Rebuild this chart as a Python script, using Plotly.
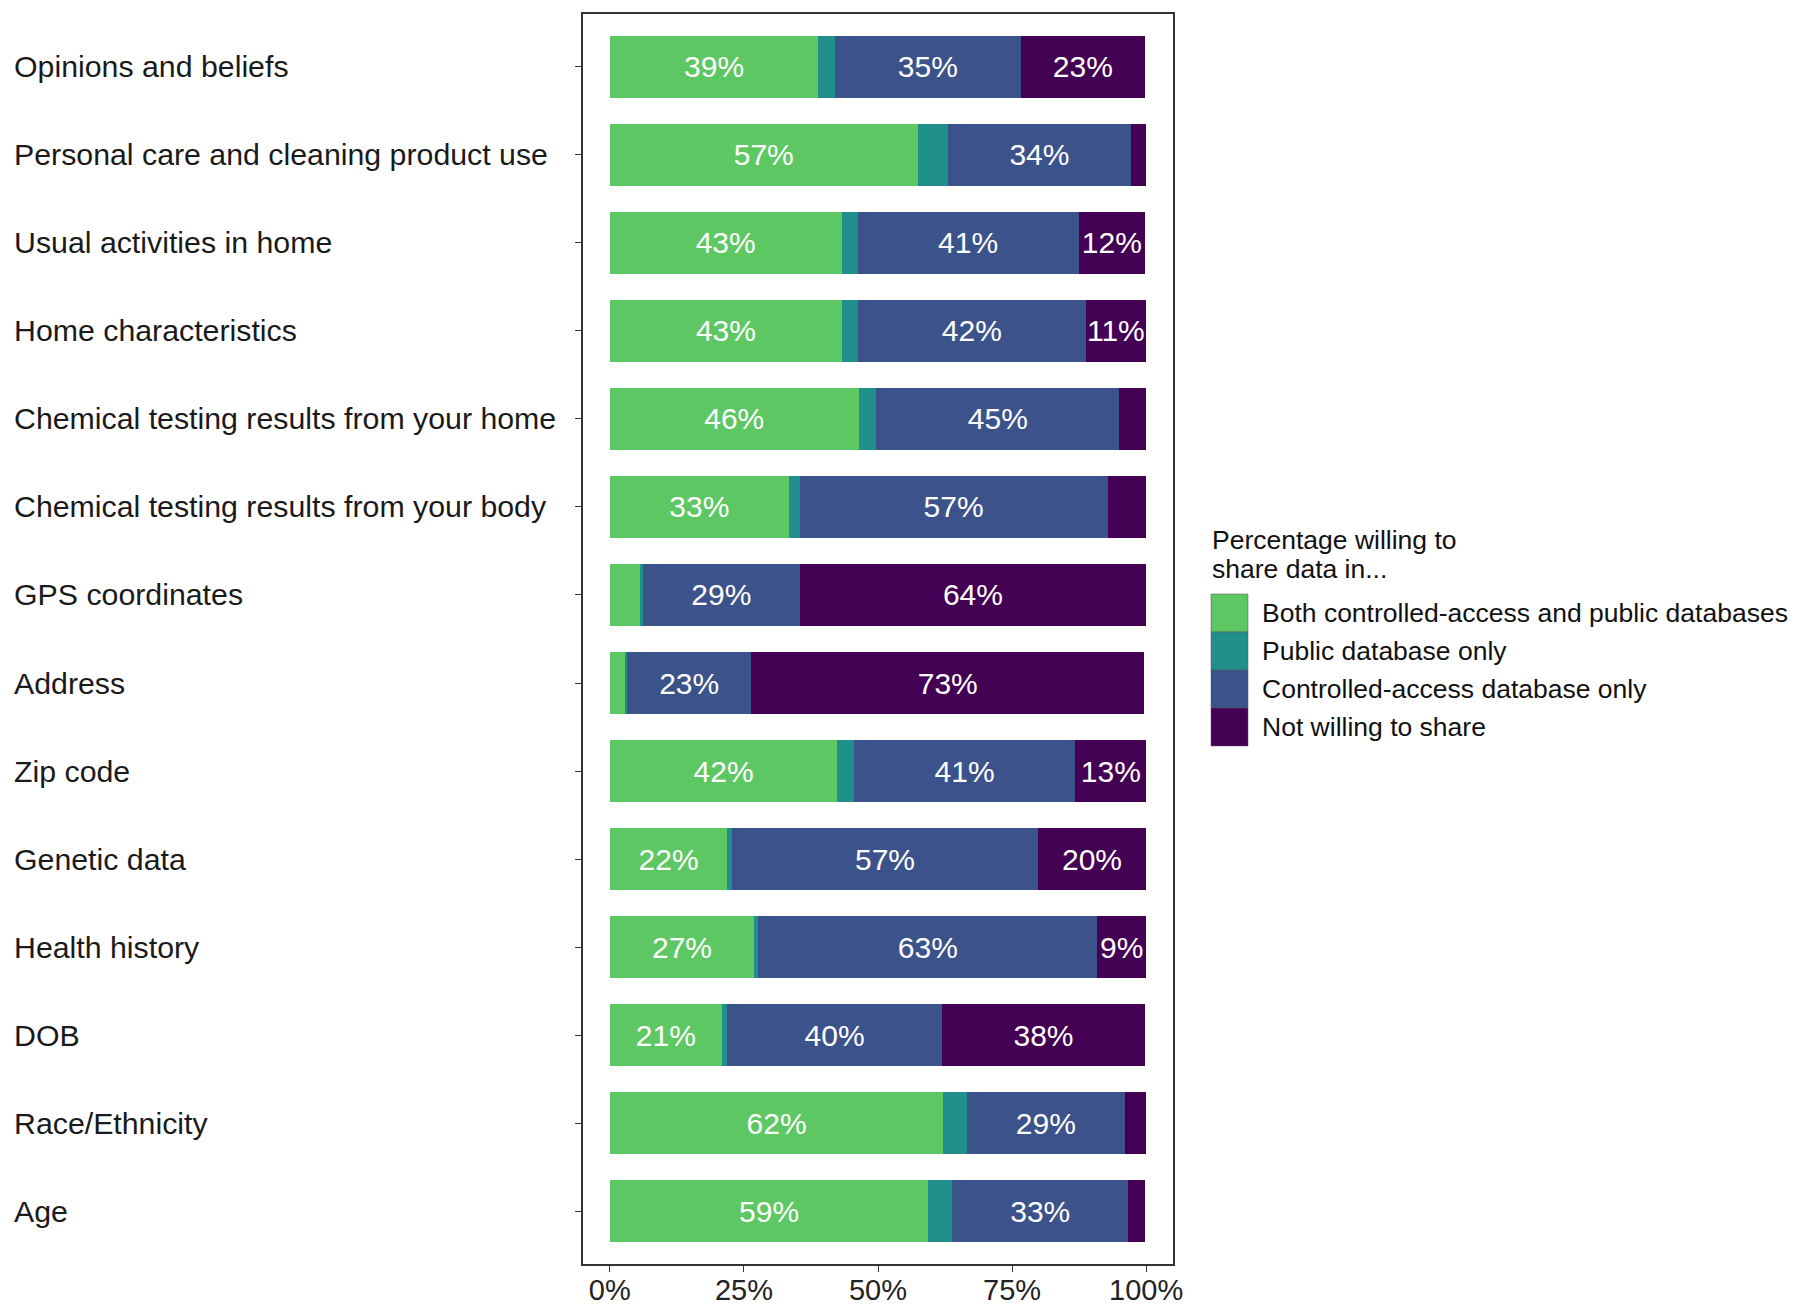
import plotly.graph_objects as go

categories = [
    "Opinions and beliefs",
    "Personal care and cleaning product use",
    "Usual activities in home",
    "Home characteristics",
    "Chemical testing results from your home",
    "Chemical testing results from your body",
    "GPS coordinates",
    "Address",
    "Zip code",
    "Genetic data",
    "Health history",
    "DOB",
    "Race/Ethnicity",
    "Age",
]

series_names = [
    "Both controlled-access and public databases",
    "Public database only",
    "Controlled-access database only",
    "Not willing to share",
]

both = [38.9, 57.4, 43.2, 43.3, 46.4, 33.4, 5.8, 2.8, 42.4, 21.9, 26.9, 20.9, 62.2, 59.4]
public_only = [3.0, 5.6, 3.0, 3.0, 3.3, 2.0, 0.3, 0.4, 3.1, 0.9, 0.8, 1.0, 4.4, 4.4]
controlled_only = [34.8, 34.2, 41.2, 42.4, 45.3, 57.4, 29.4, 23.2, 41.3, 57.0, 63.2, 40.0, 29.4, 32.9]
not_willing = [23.0, 2.8, 12.4, 11.3, 5.0, 7.2, 64.4, 73.2, 13.2, 20.2, 9.1, 37.9, 4.0, 3.0]

colors = ["#5DC863", "#21908C", "#3B528B", "#440154"]
LABEL_MIN = 8  # kleinere Segmente ohne Beschriftung

FONT = "Arial, Liberation Sans, sans-serif"

# Seite hat 8px Body-Rand -> Figur kleiner, Raender in Fensterkoordinaten gerechnet
OFF = 8
W, H = 1800 - 2 * OFF, 1311 - OFF
PLOT_X0, PLOT_X1 = 583, 1173   # Fensterkoordinaten des Panels
PLOT_Y0, PLOT_Y1 = 14, 1264
L = PLOT_X0 - OFF
R = W - (PLOT_X1 - OFF)
T = PLOT_Y0 - OFF
B = H - (PLOT_Y1 - OFF)


def px_x(wx):
    return (wx - PLOT_X0) / (PLOT_X1 - PLOT_X0)


def px_y(wy):
    return (PLOT_Y1 - wy) / (PLOT_Y1 - PLOT_Y0)


fig = go.Figure()
for name, vals, col in zip(series_names, [both, public_only, controlled_only, not_willing], colors):
    labels = [f"{round(v)}%" if v >= LABEL_MIN else "" for v in vals]
    fig.add_trace(go.Bar(
        y=categories, x=vals, orientation="h", name=name,
        marker=dict(color=col, line=dict(width=0)),
        width=0.7,
        text=labels, textposition="inside", insidetextanchor="middle",
        textangle=0, constraintext="none",
        textfont=dict(family=FONT, size=30, color="white"),
        showlegend=False,
    ))

# Kategorie-Beschriftungen linksbuendig
for cat in categories:
    fig.add_annotation(
        x=px_x(12), xref="paper", y=cat, yref="y",
        text=cat, showarrow=False, xanchor="left", yanchor="middle",
        font=dict(family=FONT, size=30.3, color="#1a1a1a"),
    )

# --- Legende manuell ---
for line, wy in [("Percentage willing to", 540), ("share data in...", 569)]:
    fig.add_annotation(
        x=px_x(1210), xref="paper", y=px_y(wy), yref="paper",
        text=line, showarrow=False, xanchor="left", yanchor="middle",
        font=dict(family=FONT, size=26.5, color="#111"),
    )
for i, (name, col) in enumerate(zip(series_names, colors)):
    top = 594 + i * 38
    fig.add_shape(
        type="rect", xref="paper", yref="paper",
        x0=px_x(1211), x1=px_x(1248), y0=px_y(top), y1=px_y(top + 38),
        fillcolor=col, line=dict(width=0.5, color="#555"),
    )
    fig.add_annotation(
        x=px_x(1260), xref="paper", y=px_y(top + 19), yref="paper",
        text=name, showarrow=False, xanchor="left", yanchor="middle",
        font=dict(family=FONT, size=26.5, color="#111"),
    )

fig.update_layout(
    width=W, height=H,
    margin=dict(l=L, r=R, t=T, b=B, pad=0, autoexpand=False),
    paper_bgcolor="white", plot_bgcolor="white",
    barmode="stack", bargap=0.3,
    font=dict(family=FONT, color="#222"),
)
fig.update_xaxes(
    range=[-5, 105], tickvals=[0, 25, 50, 75, 100],
    ticktext=["0%", "25%", "50%", "75%", "100%"],
    ticks="outside", ticklen=6, tickwidth=1.2, tickcolor="#333",
    tickfont=dict(family=FONT, size=29, color="#222"),
    ticklabelstandoff=-7,
    showgrid=False, zeroline=False, automargin=False,
    showline=True, mirror=True, linecolor="#333", linewidth=1.5,
)
fig.update_yaxes(
    categoryorder="array", categoryarray=categories,
    range=[13.6, -0.6], showticklabels=False,
    ticks="outside", ticklen=6, tickwidth=1.2, tickcolor="#333",
    showgrid=False, zeroline=False, automargin=False,
    showline=True, mirror=True, linecolor="#333", linewidth=1.5,
)

fig.write_html("out.html")
